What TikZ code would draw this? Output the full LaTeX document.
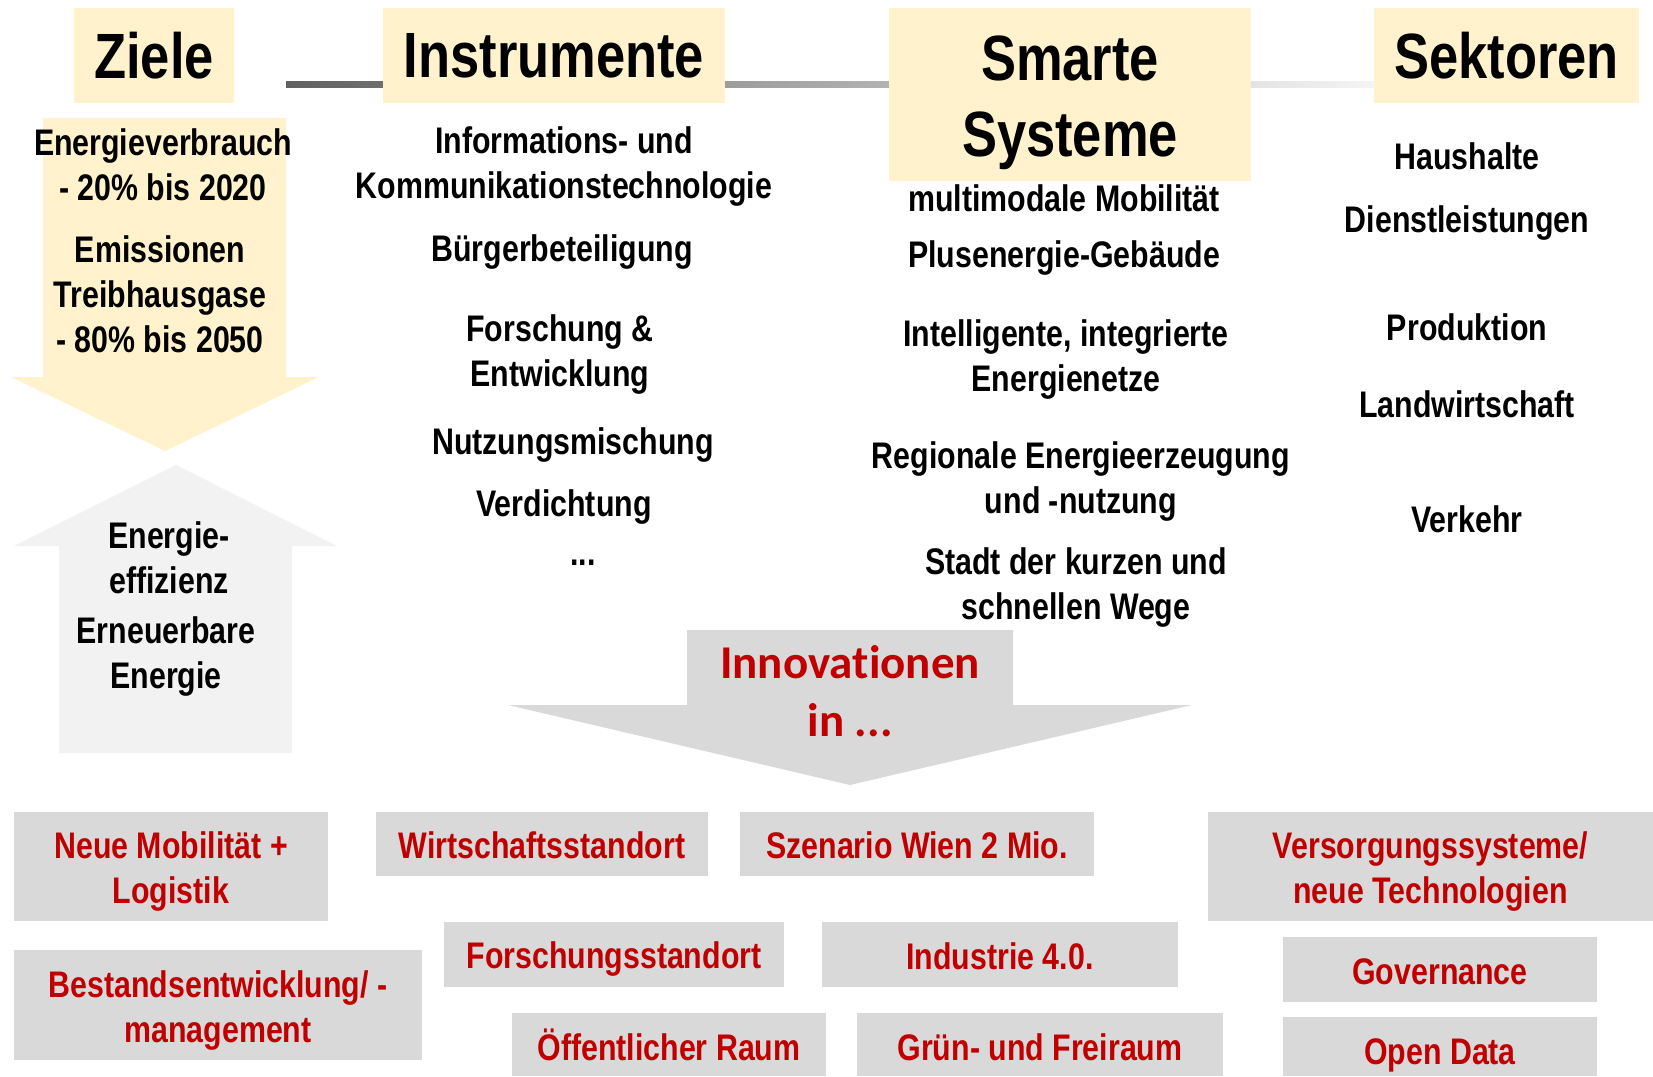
\documentclass[tikz,border=0pt]{standalone}
\usepackage{fontspec}
\setmainfont{Liberation Sans}[FakeStretch=0.82]
\newfontfamily\innofont{Carlito}[Ligatures=NoCommon]
\usepackage{tikz}
\usetikzlibrary{calc}
\definecolor{GelbZiel}{HTML}{FFF2CC}
\definecolor{GrauBox}{HTML}{D9D9D9}
\definecolor{GrauPfeil}{HTML}{F2F2F2}
\definecolor{RotInno}{HTML}{C00000}

\tikzset{
  kopf/.style={fill=GelbZiel, inner sep=0pt, align=center,
    font=\fontsize{64}{76}\selectfont\bfseries},
  eintrag/.style={inner sep=0pt, align=center,
    font=\fontsize{37}{45}\selectfont\bfseries},
  innobox/.style={fill=GrauBox, inner sep=0pt},
  innotext/.style={text=RotInno, inner sep=0pt, align=center,
    font=\fontsize{37}{45}\selectfont\bfseries},
}

\begin{document}
\begin{tikzpicture}[x=1pt, y=-1pt]
  \useasboundingbox (0,0) rectangle (1653,1076);

  % line behind the headers
  \shade[left color=black!62, right color=black!4] (286,81) rectangle (1380,87);

  % headers
  \node[kopf, minimum width=160pt, minimum height=95pt] (ziele) at (154,55.5) {Ziele};
  \node[kopf, minimum width=342pt, minimum height=95pt] (instr) at (554,55.5) {Instrumente};
  \node[kopf, minimum width=362pt, minimum height=173pt,
    label={[kopf, fill=none, yshift=-8pt]center:{Smarte\\Systeme}}] (smart) at (1070,94.5) {};
  \node[kopf, minimum width=265pt, minimum height=95pt] (sekt) at (1506.5,55.5) {Sektoren};

  % goal arrow (down) and means arrow (up)
  \fill[GelbZiel] (43,118) -- (286,118) -- (286,377) -- (319,377) -- (165,451)
    -- (11,377) -- (43,377) -- cycle;
  \fill[GrauPfeil] (59,753) -- (59,546) -- (14,546) -- (176,465) -- (337,546)
    -- (292,546) -- (292,753) -- cycle;

  % goals
  \node[eintrag] (verbrauch) at (163,165) {Energieverbrauch\\- 20\% bis 2020};
  \node[eintrag] (emission) at (160,294) {Emissionen\\Treibhausgase\\- 80\% bis 2050};
  \node[eintrag] (effizienz) at (169,558) {Energie-\\effizienz};
  \node[eintrag] (erneuerbar) at (166,657) {Erneuerbare\\Energie};

  % instruments
  \node[eintrag] (ikt) at (564,167) {Informations- und\\Kommunikationstechnologie};
  \node[eintrag] (buerger) at (562,252) {Bürgerbeteiligung};
  \node[eintrag] (fue) at (560,355) {Forschung \&\\Entwicklung};
  \node[eintrag] (mischung) at (573,445) {Nutzungsmischung};
  \node[eintrag] (dichte) at (564,507) {Verdichtung};
  \node[eintrag] (weitere) at (583,563) {...};

  % smart systems
  \node[eintrag] (mobil) at (1064,198) {multimodale Mobilität};
  \node[eintrag] (plus) at (1064,258) {Plusenergie-Gebäude};
  \node[eintrag] (netze) at (1066,360) {Intelligente, integrierte\\Energienetze};
  \node[eintrag] (regional) at (1081,482) {Regionale Energieerzeugung\\und -nutzung};
  \node[eintrag] (wege) at (1076,588) {Stadt der kurzen und\\schnellen Wege};

  % sectors
  \node[eintrag] (haushalt) at (1467,156) {Haushalte};
  \node[eintrag] (dienst) at (1467,223) {Dienstleistungen};
  \node[eintrag] (produktion) at (1467,327) {Produktion};
  \node[eintrag] (landwirt) at (1467,404) {Landwirtschaft};
  \node[eintrag] (verkehr) at (1467,519) {Verkehr};

  % innovation arrow
  \fill[GrauBox] (687,630) -- (1013,630) -- (1013,705) -- (1192,705) -- (850,785)
    -- (508,705) -- (687,705) -- cycle;
  \node[text=RotInno, align=center, inner sep=0pt,
    font=\fontsize{47}{58}\selectfont\innofont\bfseries] (inno) at (850,691)
    {Innovationen\\in ...};

  % fields of innovation
  \node[innobox, minimum width=314pt, minimum height=109pt,
    label={[innotext, yshift=-5pt]center:{Neue Mobilität +\\Logistik}}] (neuemob) at (171,866.5) {};
  \node[innobox, minimum width=332pt, minimum height=64pt,
    label={[innotext, yshift=-1pt]center:Wirtschaftsstandort}] (wirt) at (542,844) {};
  \node[innobox, minimum width=354pt, minimum height=64pt,
    label={[innotext, yshift=-1pt]center:Szenario Wien 2 Mio.}] (szen) at (917,844) {};
  \node[innobox, minimum width=445pt, minimum height=109pt,
    label={[innotext, yshift=-5pt]center:{Versorgungssysteme/\\neue Technologien}}] (versorg) at (1430.5,866.5) {};
  \node[innobox, minimum width=408pt, minimum height=110pt,
    label={[innotext, yshift=-5pt]center:{Bestandsentwicklung/ -\\management}}] (bestand) at (218,1005) {};
  \node[innobox, minimum width=340pt, minimum height=65pt,
    label={[innotext, yshift=-5pt]center:Forschungsstandort}] (forsch) at (614,954.5) {};
  \node[innobox, minimum width=356pt, minimum height=65pt,
    label={[innotext, yshift=-2pt]center:Industrie 4.0.}] (ind) at (1000,954.5) {};
  \node[innobox, minimum width=314pt, minimum height=65pt,
    label={[innotext, yshift=-2pt]center:Governance}] (gov) at (1440,969.5) {};
  \node[innobox, minimum width=314pt, minimum height=63pt,
    label={[innotext]center:Öffentlicher Raum}] (oeff) at (669,1044.5) {};
  \node[innobox, minimum width=366pt, minimum height=63pt,
    label={[innotext, yshift=-3pt]center:Grün- und Freiraum}] (gruen) at (1040,1044.5) {};
  \node[innobox, minimum width=314pt, minimum height=59pt,
    label={[innotext, yshift=-9pt]center:Open Data}] (open) at (1440,1046.5) {};

\end{tikzpicture}
\end{document}
